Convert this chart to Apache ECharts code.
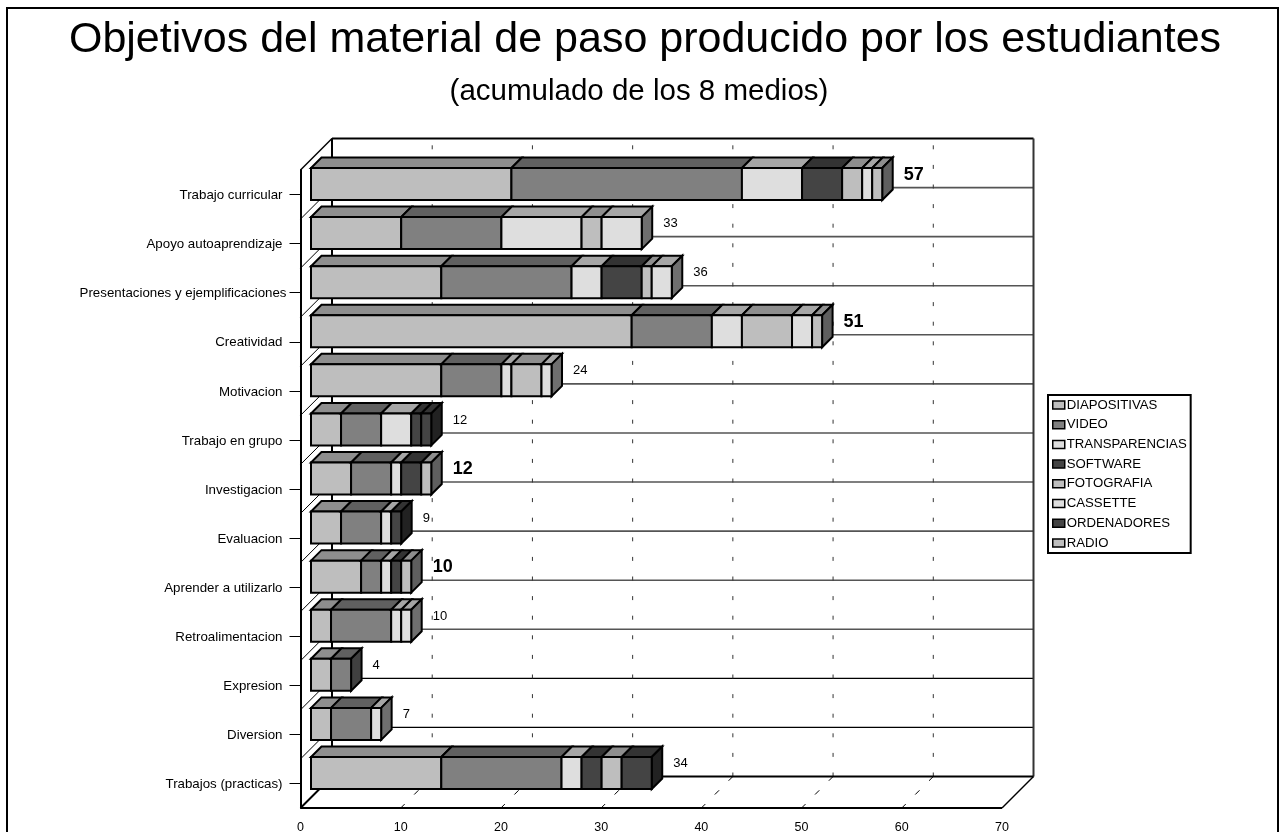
<!DOCTYPE html>
<html><head><meta charset="utf-8">
<style>html,body{margin:0;padding:0;background:#fff}#c{width:1287px;height:832px}</style>
<script src="https://cdn.jsdelivr.net/npm/echarts@6/dist/echarts.min.js"></script>
</head><body><div id="c"></div>
<script>
const categories = ['Trabajo curricular','Apoyo autoaprendizaje','Presentaciones y ejemplificaciones','Creatividad','Motivacion','Trabajo en grupo','Investigacion','Evaluacion','Aprender a utilizarlo','Retroalimentacion','Expresion','Diversion','Trabajos (practicas)'];
const seriesNames = ['DIAPOSITIVAS','VIDEO','TRANSPARENCIAS','SOFTWARE','FOTOGRAFIA','CASSETTE','ORDENADORES','RADIO'];
const diapositivas = [20,9,13,32,13,3,4,3,5,2,2,2,13];
const video = [23,10,13,8,6,4,4,4,2,6,2,4,12];
const transparencias = [6,8,3,3,1,3,1,1,1,1,0,1,2];
const software = [4,0,4,0,0,1,2,1,1,0,0,0,2];
const fotografia = [2,2,1,5,3,0,0,0,0,0,0,0,2];
const cassette = [1,4,2,2,1,0,0,0,0,1,0,0,0];
const ordenadores = [0,0,0,0,0,1,0,0,0,0,0,0,3];
const radio = [1,0,0,1,0,0,1,0,1,0,0,0,0];
const totals = [57,33,36,51,24,12,12,9,10,10,4,7,34];
const boldRows = [0,3,6,8];
const faceColors = ['#BEBEBE','#808080','#DEDEDE','#444444','#BEBEBE','#DEDEDE','#444444','#BEBEBE'];
const topColors  = ['#8E8E8E','#606060','#A6A6A6','#333333','#8E8E8E','#A6A6A6','#333333','#8E8E8E'];
const sideColors = ['#5F5F5F','#404040','#6F6F6F','#222222','#5F5F5F','#6F6F6F','#222222','#5F5F5F'];
const allValues = [diapositivas,video,transparencias,software,fotografia,cassette,ordenadores,radio];

const DEPTH_X = 31.5, DEPTH_Y = 31.5;
const BAR_NEAR = 1/3, BAR_FAR = 2/3;
const BAR_H = 32;
const FONT = '"Liberation Sans", Arial, sans-serif';
const BLACK = '#000';

function poly(points, fill, lw){
  return {type:'polygon', shape:{points}, style:{fill, stroke:BLACK, lineWidth:lw==null?2:lw, lineJoin:'miter'}};
}
function line(x1,y1,x2,y2,lw,dash,col){
  const style = {stroke:col||BLACK, lineWidth:lw, fill:null};
  if (dash) style.lineDash = dash;
  return {type:'line', shape:{x1,y1,x2,y2}, style, silent:true};
}

function renderWalls(params, api){
  const cs = params.coordSys;
  const L = cs.x, R = cs.x+cs.width, T = cs.y, B = cs.y+cs.height;
  const dx = DEPTH_X, dy = DEPTH_Y;
  const els = [];
  const step = cs.height/categories.length;
  for (let i=1;i<categories.length;i++){
    const y = T+i*step;
    els.push(line(L+dx,y-dy,R+dx,y-dy,i<=10?1.6:1.2,null,i<=10?'#555':BLACK));
    els.push(line(L,y,L+dx,y-dy,1));
  }
  for (let v=10;v<=60;v+=10){
    const p = api.coord([v,0])[0];
    els.push(line(p+dx,B-dy,p+dx,T-dy,1,[4,15.6],'#333'));
    els.push(line(p+dx,B-dy,p,B,1,[6,13.5]));
  }
  els.push(line(L+dx,T-dy,R+dx,T-dy,2));
  els.push(line(L,T,L+dx,T-dy,1.5));
  els.push(line(L+dx,T-dy,L+dx,B-dy,2));
  els.push(line(R+dx,T-dy,R+dx,B-dy,2,null,'#333'));
  els.push(line(L+dx,B-dy,R+dx,B-dy,2));
  els.push(line(L,B,L+dx,B-dy,2));
  els.push(line(R,B,R+dx,B-dy,1.5));
  els.push(line(L,B,R,B,2));
  return {type:'group', children:els};
}

function renderSegment(sIdx){
  return function(params, api){
    const start = api.value(0), end = api.value(1), row = api.value(2);
    if (end <= start) return null;
    const p0 = api.coord([start,row]), p1 = api.coord([end,row]);
    const nx = DEPTH_X*BAR_NEAR, ny = DEPTH_Y*BAR_NEAR;
    const fx = DEPTH_X*BAR_FAR,  fy = DEPTH_Y*BAR_FAR;
    const cy = p0[1]-ny;
    const top = cy-BAR_H/2, bot = cy+BAR_H/2;
    const x0 = p0[0]+nx, x1 = p1[0]+nx;
    const d = fx-nx, e = fy-ny;
    const kids = [];
    kids.push(poly([[x0,top],[x1,top],[x1+d,top-e],[x0+d,top-e]],topColors[sIdx]));
    if (end === totals[row]) kids.push(poly([[x1,top],[x1+d,top-e],[x1+d,bot-e],[x1,bot]],sideColors[sIdx]));
    kids.push(poly([[x0,top],[x1,top],[x1,bot],[x0,bot]],faceColors[sIdx]));
    return {type:'group', children:kids};
  };
}

const cumulative = categories.map(()=>0);
const barSeries = seriesNames.map((name,s)=>{
  const data = allValues[s].map((v,row)=>{
    const item = [cumulative[row], cumulative[row]+v, row];
    cumulative[row]+=v;
    return item;
  });
  return {
    name, type:'custom', coordinateSystem:'cartesian2d', z:5+s,
    itemStyle:{color:faceColors[s]},
    encode:{x:[0,1],y:2},
    renderItem:renderSegment(s), data, clip:false
  };
});

const chart = echarts.init(document.getElementById('c'),null,{renderer:'canvas'});
chart.setOption({
  animation:false,
  backgroundColor:'#fff',
  textStyle:{fontFamily:FONT},
  title:[
    {text:'Objetivos del material de paso producido por los estudiantes',left:640,top:14,textAlign:'center',
     textStyle:{fontFamily:FONT,fontSize:43,fontWeight:'normal',color:BLACK}},
    {text:'(acumulado de los 8 medios)',left:634,top:72,textAlign:'center',
     textStyle:{fontFamily:FONT,fontSize:29.5,fontWeight:'normal',color:BLACK}}
  ],
  legend:{
    orient:'vertical', left:1048, top:395, data:seriesNames, icon:'rect',
    itemWidth:12,itemHeight:8,itemGap:5.7,padding:[3,4,3,4],
    borderColor:BLACK,borderWidth:2,backgroundColor:'#fff',
    itemStyle:{borderColor:BLACK,borderWidth:1.5},
    textStyle:{fontFamily:FONT,fontSize:13.2,lineHeight:14,color:BLACK,padding:[0,0,0,-3]},
    selectedMode:false
  },
  grid:{left:300.5,top:170,width:701.5,height:638,containLabel:false,outerBoundsMode:'none'},
  xAxis:{type:'value',min:0,max:70,interval:10,position:'bottom',
    axisLine:{show:false},axisTick:{show:false},splitLine:{show:false},
    axisLabel:{color:BLACK,fontFamily:FONT,fontSize:12.5,margin:13}},
  yAxis:{type:'category',data:categories,inverse:true,
    axisLine:{show:true,lineStyle:{color:BLACK,width:2}},
    axisTick:{show:true,alignWithLabel:true,length:11,lineStyle:{color:BLACK,width:1}},
    splitLine:{show:false},
    axisLabel:{color:BLACK,fontFamily:FONT,fontSize:13.3,margin:18,padding:[2,0,0,0],
      formatter:function(v){return v.length>30?'{wide|'+v+'}':v;},
      rich:{wide:{fontFamily:FONT,fontSize:13.3,color:BLACK,padding:[0,-4,0,0]}}}},
  series:[
    {name:'walls',type:'custom',coordinateSystem:'cartesian2d',z:1,silent:true,clip:false,
     renderItem:renderWalls,data:[[0,0]],encode:{x:0,y:1}},
    ...barSeries,
    {name:'totals',type:'custom',coordinateSystem:'cartesian2d',z:20,silent:true,clip:false,
     encode:{x:0,y:1},
     data:totals.map((t,row)=>[t,row]),
     renderItem:function(params,api){
       const row = api.value(1), p = api.coord([api.value(0),row]);
       const bold = boldRows.indexOf(row)>=0;
       return {type:'text',style:{
         x:p[0]+DEPTH_X*BAR_FAR+11, y:p[1]-DEPTH_Y*BAR_FAR+1,
         text:String(api.value(0)),fill:BLACK,
         font:(bold?'bold 18px ':'13px ')+FONT,
         textAlign:'left',textVerticalAlign:'middle'}};
     }}
  ],
  graphic:[{type:'rect',silent:true,z:0,shape:{x:7,y:8,width:1271,height:900},
    style:{fill:null,stroke:BLACK,lineWidth:2}}]
});
</script></body></html>
